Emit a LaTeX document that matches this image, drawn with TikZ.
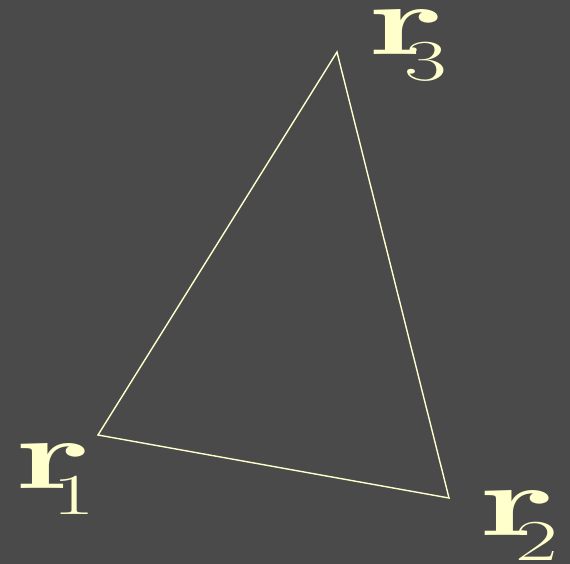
\documentclass[tikz,border=0pt]{standalone}
\usepackage{graphicx}
\definecolor{bg}{HTML}{4A4A4A}
\definecolor{cream}{HTML}{FFFFCC}
\tikzset{
  edge/.style={draw=cream, line width=1.4pt},
  rlab/.style={anchor=base west, inner sep=0pt, text=cream,
    font=\fontsize{100}{100}\selectfont\bfseries},
  sublab/.style={anchor=base west, inner sep=0pt, text=cream,
    font=\fontsize{58}{58}\selectfont}
}
\newcommand{\wide}[1]{\scalebox{1.63}[1]{#1}}
\newcommand{\widd}[1]{\scalebox{1.6}[1]{#1}}
\begin{document}
\begin{tikzpicture}[x=1pt,y=-1pt]
\fill[bg] (0,0) rectangle (570,564);
\useasboundingbox (0,0) rectangle (570,564);
\coordinate (p1) at (98,435);
\coordinate (p2) at (449,498);
\coordinate (p3) at (337,52);
\draw[edge, line join=miter] (p1) -- (p2) -- (p3) -- cycle;
\node[rlab] (r1) at (15,488) {\wide{r}};
\node[sublab] (s1) at (52,514) {\widd{1}};
\node[rlab] (r2) at (479,535) {\wide{r}};
\node[sublab] (s2) at (515,560) {\widd{2}};
\node[rlab] (r3) at (368,55) {\wide{r}};
\node[sublab] (s3) at (404,81) {\widd{3}};
\end{tikzpicture}
\end{document}
